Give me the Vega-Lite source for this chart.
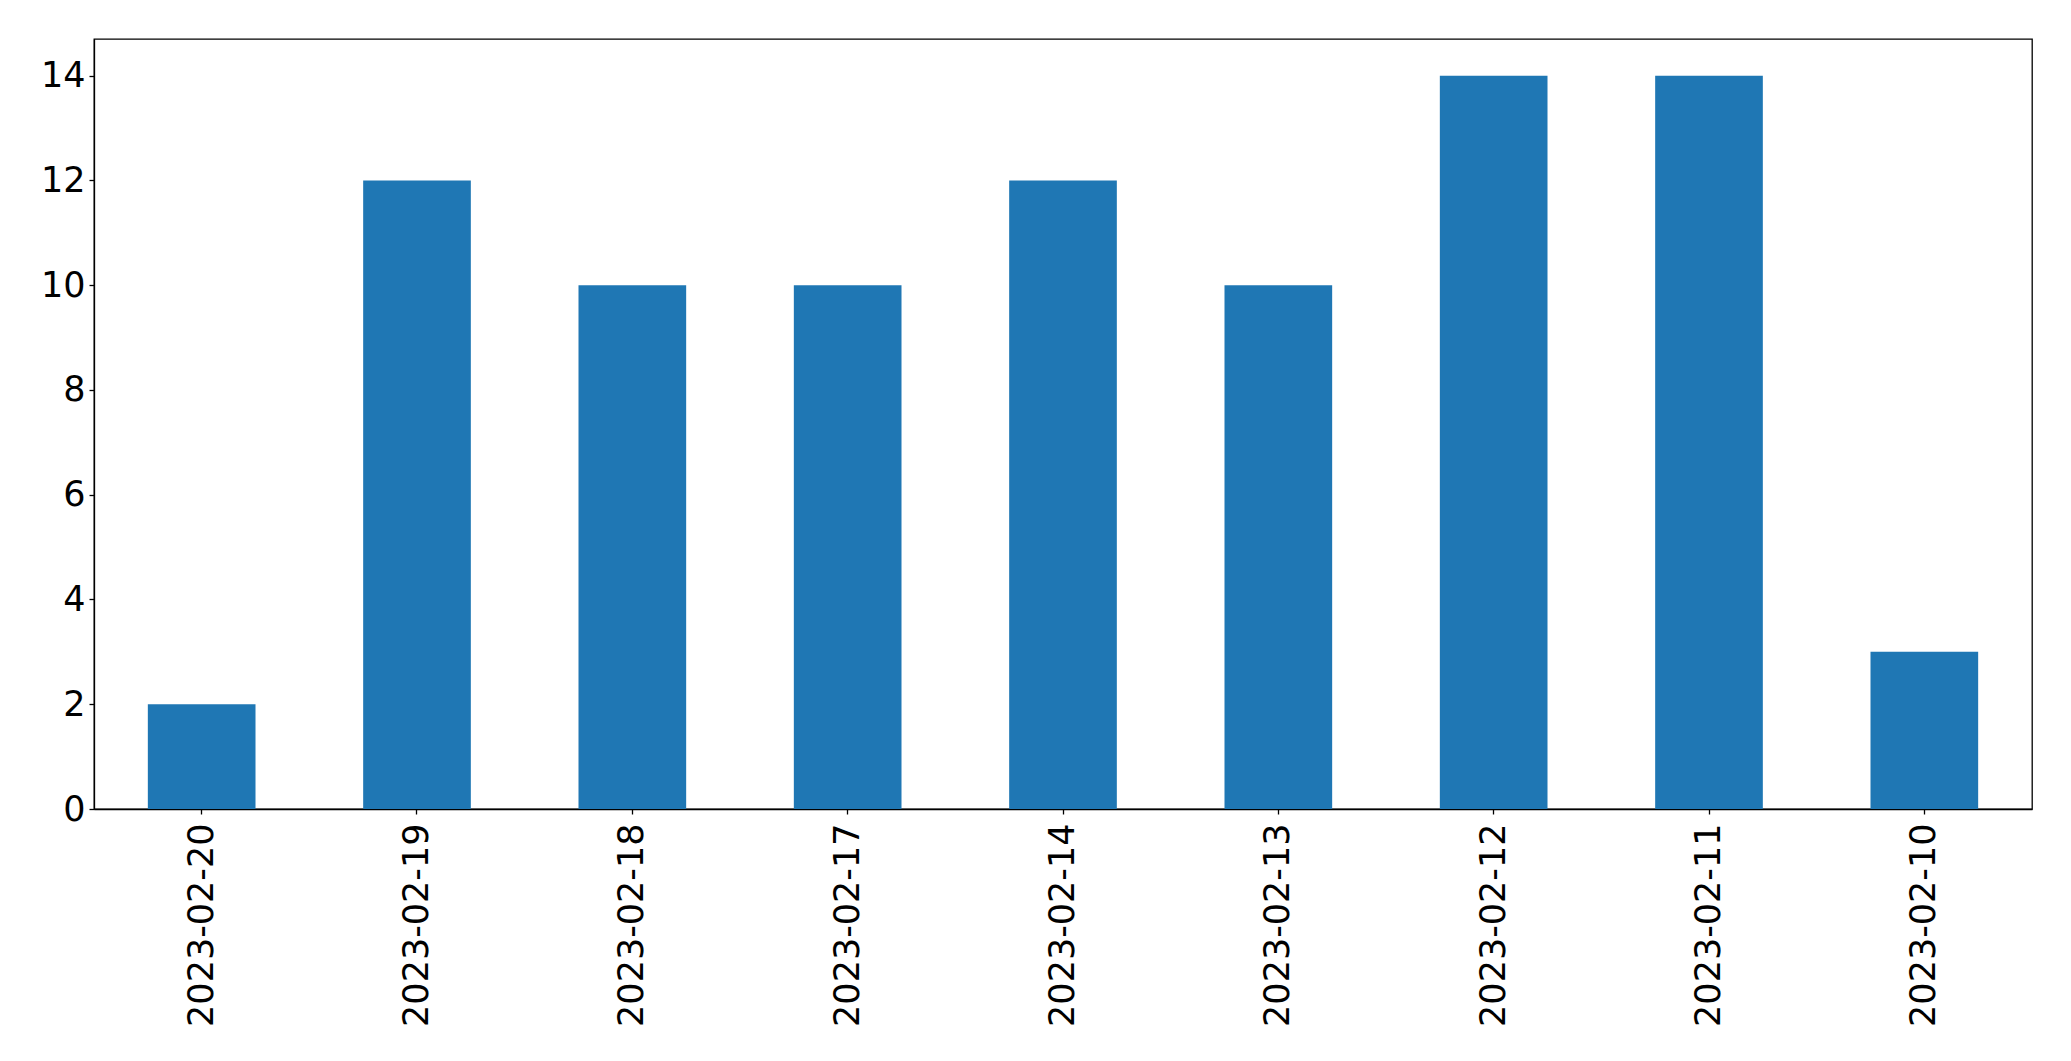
{
  "$schema": "https://vega.github.io/schema/vega-lite/v6.json",
  "width": 1938,
  "height": 770,
  "autosize": "none",
  "padding": {"left": 94, "top": 39, "right": 39, "bottom": 252},
  "background": "white",
  "config": {
    "view": {"stroke": "black", "strokeWidth": 1.3},
    "font": "DejaVu Sans",
    "axis": {
      "grid": false,
      "domainColor": "black",
      "domainWidth": 1.3,
      "tickColor": "black",
      "tickWidth": 1.3,
      "tickSize": 5,
      "labelColor": "black",
      "labelFont": "DejaVu Sans",
      "labelFontSize": 35,
      "labelLimit": 0,
      "title": null
    }
  },
  "data": {
    "values": [
      {"date": "2023-02-20", "count": 2},
      {"date": "2023-02-19", "count": 12},
      {"date": "2023-02-18", "count": 10},
      {"date": "2023-02-17", "count": 10},
      {"date": "2023-02-14", "count": 12},
      {"date": "2023-02-13", "count": 10},
      {"date": "2023-02-12", "count": 14},
      {"date": "2023-02-11", "count": 14},
      {"date": "2023-02-10", "count": 3}
    ]
  },
  "mark": {"type": "bar", "color": "#1f77b4"},
  "encoding": {
    "x": {
      "field": "date",
      "type": "nominal",
      "sort": null,
      "scale": {"paddingInner": 0.5, "paddingOuter": 0.25},
      "axis": {"labelAngle": -90, "labelPadding": 9}
    },
    "y": {
      "field": "count",
      "type": "quantitative",
      "scale": {"domain": [0, 14.7], "nice": false, "zero": true},
      "axis": {"values": [0, 2, 4, 6, 8, 10, 12, 14], "labelPadding": 4}
    }
  }
}
